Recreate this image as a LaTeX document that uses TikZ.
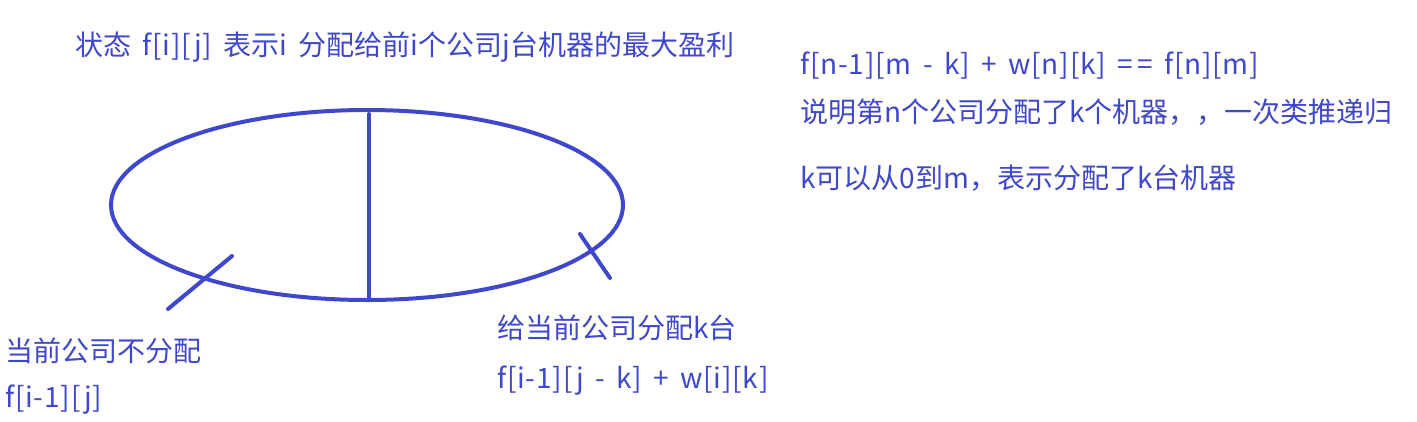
\documentclass[tikz,border=0pt]{standalone}
\usepackage{fontspec}
\setmainfont{Noto Sans CJK SC}
\newfontfamily\enfont{Noto Sans CJK SC}[LetterSpace=3,WordSpace=1.6]
\newcommand{\en}[1]{{\enfont #1}}
\usepackage{tikz}
\usetikzlibrary{calc}
\definecolor{pen}{RGB}{63,72,204}

\begin{document}
\begin{tikzpicture}[x=1pt,y=-1pt,
	note/.style={anchor=base west,inner sep=0pt,text=pen,font=\fontsize{28}{34}\selectfont},
	stroke/.style={pen,line width=4pt,line cap=round}]
	\useasboundingbox (0,0) rectangle (1417,421);
	\def\cx{367}
	\def\cy{205}
	\def\rx{256}
	\def\ry{95}
	
	\draw[stroke] (\cx,\cy) ellipse [x radius=\rx pt, y radius=\ry pt];
	
	\coordinate (top) at (369,114);
	\coordinate (bot) at (369,298);
	\coordinate (skipA) at (168,309);
	\coordinate (skipB) at (232,256);
	\coordinate (takeA) at (580,234);
	\coordinate (takeB) at (610,278);
	
	\draw[stroke] (top)--(bot);
	\draw[stroke] (skipA)--(skipB);
	\draw[stroke] (takeA)--(takeB);
	
	\node[note] (title) at (75,55) {状态\en{ f[i][j] }表示\en{i }分配给前\en{i}个公司\en{j}台机器的最大盈利};
	\node[note] (recur) at (800,74) {\en{f[n-1][m - k] + w[n][k] =\kern4pt= f[n][m]}};
	\node[note] (explain) at (800,122) {说明第\en{n}个公司分配了\en{k}个机器，，一次类推递归};
	\node[note] (krange) at (800,188) {\en{k}可以从\en{0}到\en{m}，表示分配了\en{k}台机器};
	
	\node[note] (skiplbl) at (5,361) {当前公司不分配};
	\node[note] (skipf) at (5,407) {\en{f[i-1][j]}};
	\node[note] (takelbl) at (497,338) {给当前公司分配\en{k}台};
	\node[note] (takef) at (497,388) {\en{f[i-1][j - k] + w[i][k]}};
\end{tikzpicture}
\end{document}
